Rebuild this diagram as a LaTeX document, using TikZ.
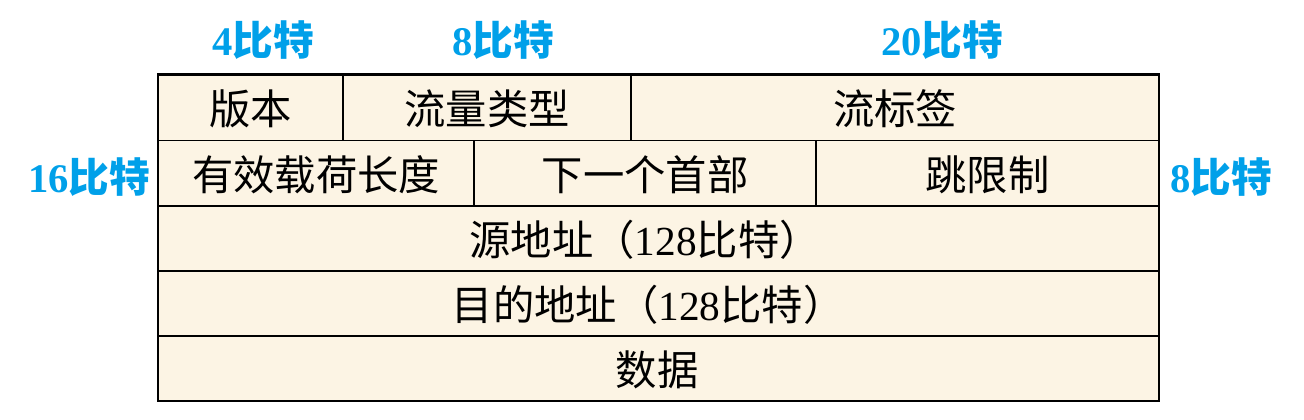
\documentclass[tikz,border=0pt]{standalone}
\usepackage{fontspec}
\setmainfont{Liberation Serif}
\newfontfamily\cjk{Noto Sans CJK SC}
\definecolor{cellfill}{RGB}{252,244,228}
\definecolor{lblblue}{RGB}{0,160,233}
\begin{document}
\begin{tikzpicture}[x=0.75pt,y=-0.75pt,
  inner/.style={line width=1.1pt,black},
  outer/.style={line width=1.6pt,black},
  celltext/.style={font=\fontsize{31}{35}\selectfont, inner sep=0pt, anchor=center},
  bitlabel/.style={font=\fontsize{30.5}{35}\selectfont\bfseries, text=lblblue, inner sep=0pt, anchor=center}]
\useasboundingbox (0,0) rectangle (1304,419);
% background fill
\fill[cellfill] (158,74.5) rectangle (1159,401);
% row lines
\draw[inner] (158,140.5) -- (1159,140.5);
\draw[inner] (158,206) -- (1159,206);
\draw[inner] (158,271) -- (1159,271);
\draw[inner] (158,336) -- (1159,336);
% column lines
\draw[inner] (343,74.5) -- (343,140.5);
\draw[inner] (631,74.5) -- (631,140.5);
\draw[inner] (474,140.5) -- (474,206);
\draw[inner] (816,140.5) -- (816,206);
% outer frame
\draw[outer] (158,74.5) rectangle (1159,401);
% cell texts
\node[celltext] (ver) at (250.5,109) {\cjk 版本};
\node[celltext] (tc) at (487,109) {\cjk 流量类型};
\node[celltext] (fl) at (895,109) {\cjk 流标签};
\node[celltext] (plen) at (316,175) {\cjk 有效载荷长度};
\node[celltext] (nh) at (645,175) {\cjk 下一个首部};
\node[celltext] (hl) at (987.5,175) {\cjk 跳限制};
\node[celltext] (src) at (645,240) {{\cjk 源地址（}128{\cjk 比特）}};
\node[celltext] (dst) at (648,305) {{\cjk 目的地址（}128{\cjk 比特）}};
\node[celltext] (data) at (657,370) {\cjk 数据};
% bit labels
\node[bitlabel] (b4) at (263,40) {4{\cjk\bfseries 比特}};
\node[bitlabel] (b8) at (503,40) {8{\cjk\bfseries 比特}};
\node[bitlabel] (b20) at (942,40) {20{\cjk\bfseries 比特}};
\node[bitlabel] (b16) at (89,177) {16{\cjk\bfseries 比特}};
\node[bitlabel] (b8r) at (1221,177) {8{\cjk\bfseries 比特}};
\end{tikzpicture}
\end{document}
